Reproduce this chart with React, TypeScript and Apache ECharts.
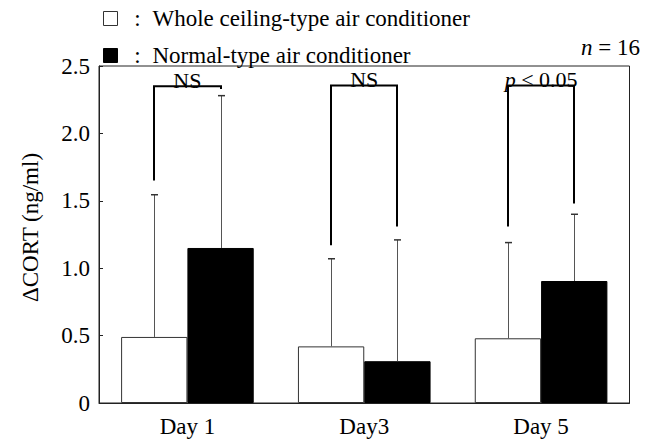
import React, { useEffect, useRef } from "react";
import * as echarts from "echarts";

const categories = ["Day 1", "Day3", "Day 5"];
const seriesNames = ["Whole ceiling-type air conditioner", "Normal-type air conditioner"];
const wholeMean = [0.49, 0.42, 0.48];
const wholeUpper = [1.545, 1.07, 1.19];
const normalMean = [1.15, 0.31, 0.905];
const normalUpper = [2.28, 1.21, 1.4];
const bracketTop = [2.35, 2.355, 2.355];
const bracketLeftEnd = [1.65, 1.17, 1.31];
const bracketRightEnd = [2.33, 1.31, 1.48];
const sigLabels = ["NS", "NS", "{i|p} < 0.05"];
const yTicks = [0, 0.5, 1.0, 1.5, 2.0, 2.5];

const FONT = "Liberation Serif";

export default function App() {
  const ref = useRef<HTMLDivElement>(null);
  useEffect(() => {
    if (!ref.current) return;
    const chart = echarts.init(ref.current, null, { renderer: "svg" });
    const barCategoryGap = 0.25;

    const errorSeries = (means: number[], uppers: number[], side: number, name: string) => ({
      type: "custom",
      name,
      z: 5,
      data: categories.map((_, i) => [i, means[i], uppers[i]]),
      encode: { x: 0, y: [1, 2] },
      renderItem: (params: any, api: any) => {
        const idx = api.value(0);
        const band = api.size([1, 0])[0];
        const off = side * band * (1 - barCategoryGap) / 4;
        const lo = api.coord([idx, api.value(1)]);
        const hi = api.coord([idx, api.value(2)]);
        const x = Math.round(lo[0] + off) + 0.5;
        return {
          type: "group",
          children: [
            { type: "line", shape: { x1: x, y1: lo[1], x2: x, y2: hi[1] }, style: { stroke: "#555", lineWidth: 1 } },
            { type: "line", shape: { x1: x - 3.5, y1: hi[1], x2: x + 3.5, y2: hi[1] }, style: { stroke: "#333", lineWidth: 1.5 } },
          ],
        };
      },
    });

    const option: any = {
      animation: false,
      textStyle: { fontFamily: FONT, color: "#000" },
      grid: {
        left: 99,
        right: 21.5,
        top: 66,
        bottom: 41,
        show: true,
        borderColor: "#222",
        borderWidth: 1,
        backgroundColor: "transparent",
      },
      legend: {
        data: seriesNames,
        orient: "vertical",
        left: 103,
        top: 7,
        padding: 0,
        icon: "rect",
        itemWidth: 14,
        itemHeight: 14,
        itemGap: 14,
        selectedMode: false,
        itemStyle: { borderWidth: 1 },
        formatter: (name: string) => "{c|:}{t|" + name + "}",
        textStyle: {
          fontFamily: FONT,
          fontSize: 23,
          color: "#000",
          lineHeight: 22,
          rich: {
            c: { width: 30, align: "center", fontSize: 23, fontFamily: FONT, lineHeight: 22 },
            t: { fontSize: 23, fontFamily: FONT, lineHeight: 22 },
          },
        },
      },
      xAxis: {
        type: "category",
        data: categories,
        axisLine: { show: true, lineStyle: { color: "#222", width: 1 } },
        axisTick: { show: false },
        axisLabel: { fontFamily: FONT, fontSize: 23, color: "#000", margin: 12 },
        splitLine: { show: false },
      },
      yAxis: {
        type: "value",
        min: 0,
        max: 2.5,
        interval: 0.5,
        name: "ΔCORT (ng/ml)",
        nameLocation: "middle",
        nameGap: 57,
        nameRotate: 90,
        nameTextStyle: { fontFamily: FONT, fontSize: 23, color: "#000", padding: [0, 0, 0, 14] },
        axisLine: { show: true, lineStyle: { color: "#222", width: 1 } },
        axisTick: { show: true, inside: true, length: 4, lineStyle: { color: "#222" } },
        splitLine: { show: false },
        axisLabel: {
          fontFamily: FONT,
          fontSize: 23,
          color: "#000",
          margin: 9,
          formatter: (v: number) => {
            const t = yTicks.find((k) => Math.abs(k - v) < 1e-9);
            if (t === undefined) return "";
            return t === 0 ? "0" : t.toFixed(1);
          },
        },
      },
      series: [
        {
          type: "bar",
          name: seriesNames[0],
          data: wholeMean,
          barGap: "0%",
          barCategoryGap: "25%",
          itemStyle: { color: "#fff", borderColor: "#333", borderWidth: 1 },
        },
        {
          type: "bar",
          name: seriesNames[1],
          data: normalMean,
          barGap: "0%",
          barCategoryGap: "25%",
          itemStyle: { color: "#000", borderColor: "#000", borderWidth: 1 },
        },
        errorSeries(wholeMean, wholeUpper, -1, "err1"),
        errorSeries(normalMean, normalUpper, 1, "err2"),
        {
          type: "custom",
          name: "sig",
          z: 6,
          data: categories.map((_, i) => [i, bracketTop[i], bracketLeftEnd[i], bracketRightEnd[i]]),
          encode: { x: 0, y: [1, 2, 3] },
          renderItem: (params: any, api: any) => {
            const idx = api.value(0);
            const band = api.size([1, 0])[0];
            const off = band * (1 - barCategoryGap) / 4;
            const top = api.coord([idx, api.value(1)]);
            const l = api.coord([idx, api.value(2)]);
            const r = api.coord([idx, api.value(3)]);
            const xl = Math.round(top[0] - off);
            const xr = Math.round(top[0] + off);
            return {
              type: "group",
              children: [
                {
                  type: "polyline",
                  shape: { points: [[xl, l[1]], [xl, top[1]], [xr, top[1]], [xr, r[1]]] },
                  style: { stroke: "#000", lineWidth: 2, fill: null },
                },
                {
                  type: "text",
                  x: top[0],
                  y: top[1] + 3,
                  style: {
                    text: sigLabels[idx],
                    fontFamily: FONT,
                    fontSize: 22,
                    lineHeight: 18,
                    fill: "#000",
                    align: "center",
                    verticalAlign: "bottom",
                    rich: { i: { fontStyle: "italic", fontFamily: FONT, fontSize: 22, lineHeight: 18 } },
                  },
                },
              ],
            };
          },
        },
      ],
      graphic: [
        {
          type: "text",
          right: 11,
          top: 36,
          style: {
            text: "{i|n} = 16",
            fontFamily: FONT,
            fontSize: 23,
            fill: "#000",
            rich: { i: { fontStyle: "italic", fontFamily: FONT, fontSize: 23 } },
          },
        },
      ],
    };
    chart.setOption(option);
    return () => chart.dispose();
  }, []);
  return <div ref={ref} style={{ width: 651, height: 444, position: "absolute", left: 0, top: 0 }} />;
}
